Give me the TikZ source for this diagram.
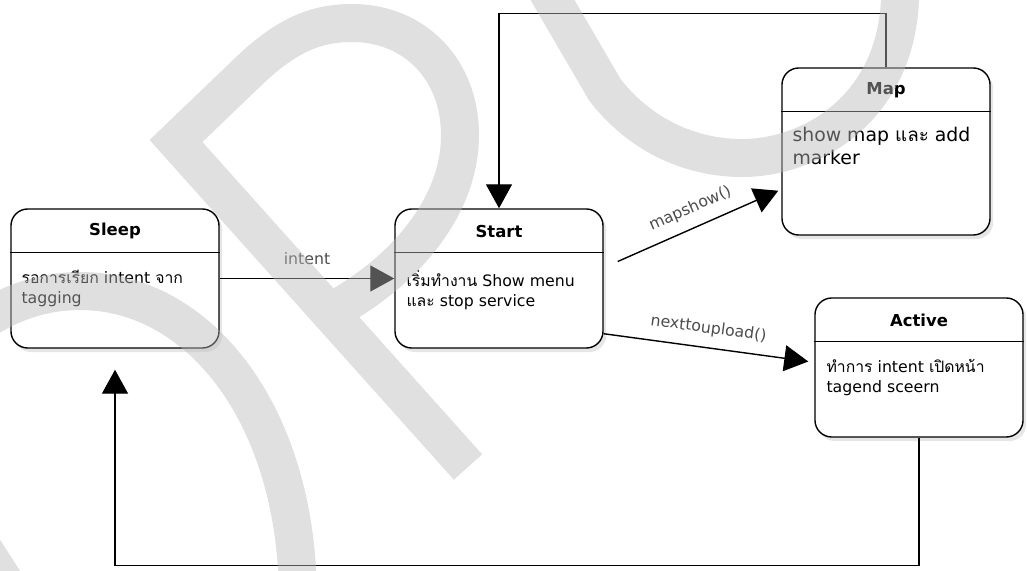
\documentclass[tikz,border=0pt]{standalone}
\usepackage{fontspec}
\setmainfont{DejaVu Sans}
\newfontfamily\thaifont[Script=Thai]{Loma}
\usetikzlibrary{arrows.meta,calc,shadows}
\newcommand{\thai}[1]{{\thaifont #1}}

\tikzset{
  state/.style={draw, line width=1pt, rounded corners=0.42cm, fill=white,
    minimum width=5.2cm, minimum height=3.475cm,
    drop shadow={shadow xshift=0.08cm, shadow yshift=-0.1cm, opacity=0.2}},
  stitle/.style={font=\fontsize{11.7}{14}\selectfont\bfseries},
  sbody/.style={font=\fontsize{11.2}{14.2}\selectfont, align=left,
    anchor=north west, inner sep=0pt},
  flow/.style={line width=1pt, -{Triangle[length=0.6cm,width=0.65cm]}},
  elabel/.style={font=\fontsize{11.2}{14}\selectfont, text=black!70},
  wmark/.style={line width=0.95cm, draw=black!27, opacity=0.45, line join=miter},
}

\begin{document}
\begin{tikzpicture}[x=0.025cm, y=-0.025cm]
  \useasboundingbox (0,0) rectangle (1027,571);

  % --- states ---
  \node[state] (sleep) at (115,278.5) {};
  \node[state] (start) at (499,278.5) {};
  \node[state, minimum height=4.175cm] (map) at (886,151.5) {};
  \node[state] (active) at (919,367.5) {};

  % header lines
  \foreach \s in {sleep,start,map,active}
    \draw[line width=1pt] ($(\s.north west)+(0,44)$) -- ($(\s.north east)+(0,44)$);

  % titles
  \node[stitle] (sleepTitle) at ($(sleep.north)+(0,23)$) {Sleep};
  \node[stitle] (startTitle) at ($(start.north)+(0,23)$) {Start};
  \node[stitle] (mapTitle) at ($(map.north)+(0,23)$) {Map};
  \node[stitle] (activeTitle) at ($(active.north)+(0,23)$) {Active};

  % texts
  \node[sbody] (sleepText) at ($(sleep.north west)+(11,62)$)
    {\thai{รอการเรียก} intent \thai{จาก}\\tagging};
  \node[sbody] (startText) at ($(start.north west)+(12,62)$)
    {\thai{เริ่มทำงาน} Show menu\\\thai{และ} stop service};
  \node[sbody, font=\fontsize{13.4}{16.4}\selectfont] (mapText) at ($(map.north west)+(11,60)$)
    {show map \thai{และ} add\\marker};
  \node[sbody] (activeText) at ($(active.north west)+(12,62)$)
    {\thai{ทำการ} intent \thai{เปิดหน้า}\\tagend sceern};

  % --- transitions ---
  \draw[flow] (sleep) -- (start) node[elabel, midway, above=0.2cm] (intentLbl) {intent};
  \draw[flow] ($(start.east)+(14,-17)$) -- ($(map.south west)+(-3,-45)$)
    node[elabel, midway, sloped, above=0.15cm] (mapLbl) {mapshow()};
  \draw[flow] ($(start.south east)+(0,-15)$) -- ($(active.west)+(-6,-6)$)
    node[elabel, midway, sloped, above=0.15cm] (nextLbl) {nexttoupload()};
  \draw[flow] (map.north) -- ++(0,-54) -| (start.north);
  \draw[flow, shorten >=0.525cm] (active.south) -- ++(0,128) -| (sleep.south);

  % --- watermark ---
  \begin{scope}
  \clip (0,0) rectangle (1027,571);
  \draw[wmark] (468,467) -- (176,141) -- (250,70) .. controls (290,32) and (320,23) .. (352,23)
    .. controls (415,23) and (460,70) .. (460,135) .. controls (460,210) and (400,275) .. (330,312);
  \draw[wmark] (-138,600) .. controls (-138,416) and (-40,291) .. (80,291)
    .. controls (200,291) and (298,416) .. (298,600);
  \draw[wmark] (-56,488) -- (24,612);
  \draw[wmark] (535,-30) -- (605,90) .. controls (640,135) and (690,158) .. (742,158)
    .. controls (810,158) and (895,110) .. (900,0) -- (900,-30);
  \end{scope}
\end{tikzpicture}
\end{document}
